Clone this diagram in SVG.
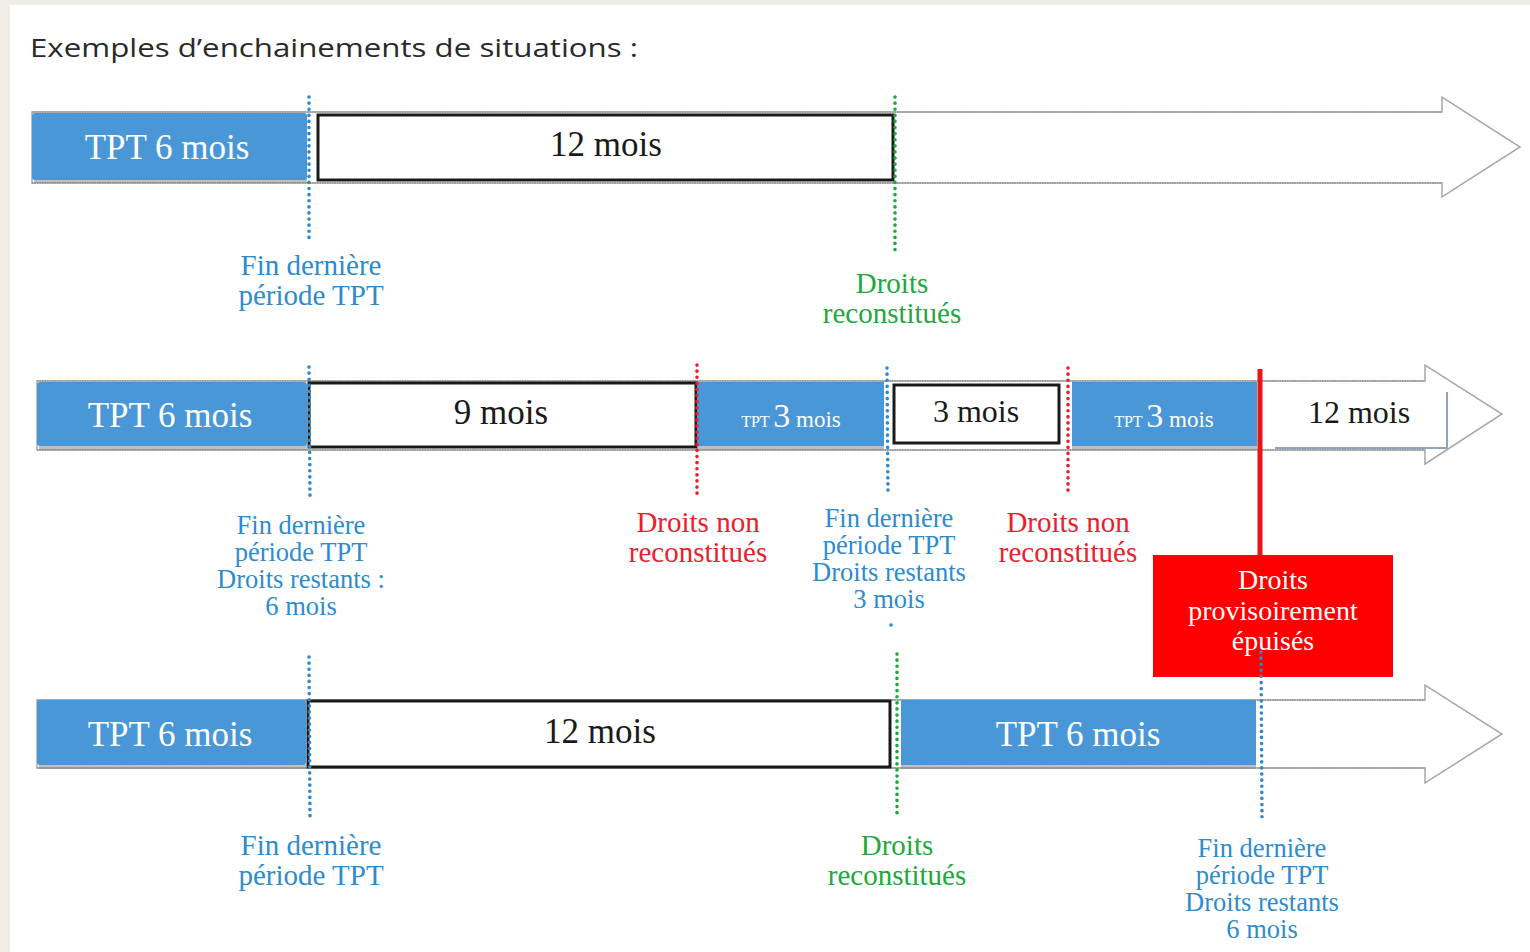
<svg xmlns="http://www.w3.org/2000/svg" width="1530" height="952" viewBox="0 0 1530 952">
<defs>
<style>
.bg{fill:#efede6}
.arrow{fill:#fff;stroke:#a8a8a8;stroke-width:1.5}
.shaft{stroke:#9c9c9c;stroke-width:2;stroke-dasharray:1.5 1}
.blue{fill:#4a97d8}
.shadow{fill:#8a8a8a;opacity:.55}
.wbox{fill:#fff;stroke:#1a1a1a;stroke-width:3}
.tw{font-family:"Liberation Serif","Times New Roman",serif;fill:#fff;text-anchor:middle}
.tb{font-family:"Liberation Serif","Times New Roman",serif;fill:#1a1a1a;text-anchor:middle}
.lbl{font-family:"Liberation Serif","Times New Roman",serif;text-anchor:middle}
.lb{fill:#2d8bd0}
.lg{fill:#22a83c}
.lr{fill:#e8212d}
.dot{fill:none;stroke-width:3.6;stroke-linecap:round;stroke-dasharray:0.1 6}
.db{stroke:#2d88cc}
.dg{stroke:#1fa83a}
.dr{stroke:#e5202c}
</style>
</defs>
<rect class="bg" x="0" y="0" width="1530" height="952"/>
<rect x="10" y="5" width="1520" height="947" fill="#fff"/>
<text x="30" y="57" font-family="'Open Sans','Liberation Sans',sans-serif" font-size="25" fill="#2a2a2a" textLength="608" lengthAdjust="spacingAndGlyphs">Exemples d’enchainements de situations :</text>

<!-- Row 1 -->
<g id="row1-arrow">
<path class="arrow" d="M32,112 H1442 V97 L1520,147 L1442,197 V183 H32 Z"/>
<line class="shaft" x1="32" y1="112" x2="1442" y2="112"/>
<line class="shaft" x1="32" y1="183" x2="1442" y2="183"/>
</g>
<g id="row1-tpt6">
<rect class="shadow" x="34" y="178" width="273" height="5"/>
<rect class="blue" x="32" y="113" width="275" height="67" rx="3"/>
<text class="tw" x="167" y="159" font-size="35">TPT 6 mois</text>
</g>
<g id="row1-12mois">
<rect class="wbox" x="318" y="115" width="575" height="65"/>
<text class="tb" x="606" y="156" font-size="35">12 mois</text>
</g>

<!-- Row 2 -->
<g id="row2-arrow">
<path class="arrow" d="M37,381 H1425 V365 L1502,414 L1425,464 V450 H37 Z"/>
<line class="shaft" x1="37" y1="381" x2="1425" y2="381"/>
<line class="shaft" x1="37" y1="450" x2="1425" y2="450"/>
</g>
<g id="row2-tpt6">
<rect class="shadow" x="39" y="445" width="268" height="5"/>
<rect class="blue" x="37" y="382" width="270" height="64" rx="3"/>
<text class="tw" x="170" y="427" font-size="35">TPT 6 mois</text>
</g>
<g id="row2-9mois">
<rect class="wbox" x="309" y="383" width="387" height="64"/>
<text class="tb" x="501" y="424" font-size="35">9 mois</text>
</g>
<g id="row2-tpt3a">
<rect class="shadow" x="697" y="445" width="187" height="5"/>
<rect class="blue" x="697" y="382" width="187" height="64"/>
<text class="tw" x="791" y="427"><tspan font-size="16">TPT </tspan><tspan font-size="34">3</tspan><tspan font-size="23"> mois</tspan></text>
</g>
<g id="row2-3mois">
<rect class="wbox" x="894" y="385" width="165" height="58"/>
<text class="tb" x="976" y="422" font-size="32">3 mois</text>
</g>
<g id="row2-tpt3b">
<rect class="shadow" x="1072" y="445" width="185" height="5"/>
<rect class="blue" x="1072" y="382" width="185" height="64"/>
<text class="tw" x="1164" y="427"><tspan font-size="16">TPT </tspan><tspan font-size="34">3</tspan><tspan font-size="23"> mois</tspan></text>
</g>
<g id="row2-12mois">
<path d="M1275,448 H1447 V392" fill="none" stroke="#8fa6c0" stroke-width="2"/>
<text class="tb" x="1359" y="423" font-size="32">12 mois</text>
</g>

<!-- Row 3 -->
<g id="row3-arrow">
<path class="arrow" d="M37,700 H1425 V685 L1502,734 L1425,783 V768 H37 Z"/>
<line class="shaft" x1="37" y1="700" x2="1425" y2="700"/>
<line class="shaft" x1="37" y1="768" x2="1425" y2="768"/>
</g>
<g id="row3-tpt6a">
<rect class="shadow" x="39" y="764" width="267" height="5"/>
<rect class="blue" x="37" y="700" width="269" height="65" rx="3"/>
<text class="tw" x="170" y="746" font-size="35">TPT 6 mois</text>
</g>
<g id="row3-12mois">
<rect class="wbox" x="308" y="701" width="582" height="66"/>
<text class="tb" x="600" y="743" font-size="35">12 mois</text>
</g>
<g id="row3-tpt6b">
<rect class="shadow" x="901" y="764" width="355" height="5"/>
<rect class="blue" x="901" y="700" width="355" height="65"/>
<text class="tw" x="1078" y="746" font-size="35">TPT 6 mois</text>
</g>

<!-- Red box -->
<g id="droits-epuises">
<rect x="1153" y="555" width="240" height="122" fill="#ff0000"/>
<text class="tw" font-size="28"><tspan x="1273" y="589">Droits</tspan><tspan x="1273" y="620">provisoirement</tspan><tspan x="1273" y="650">épuisés</tspan></text>
</g>

<!-- Connectors -->
<g id="connectors">
<line class="dot db" x1="309" y1="97" x2="309" y2="238"/>
<line class="dot dg" x1="895" y1="97" x2="895" y2="252"/>
<line class="dot db" x1="309" y1="367" x2="310" y2="498"/>
<line class="dot dr" x1="697" y1="365" x2="697" y2="494"/>
<line class="dot db" x1="887" y1="368" x2="888" y2="493"/>
<line class="dot dr" x1="1068" y1="368" x2="1068" y2="493"/>
<line x1="1260" y1="369" x2="1260" y2="556" stroke="#e8141c" stroke-width="5"/>
<line class="dot db" x1="309" y1="657" x2="310" y2="820"/>
<line class="dot dg" x1="897" y1="654" x2="897" y2="818"/>
<line class="dot db" x1="1261" y1="652" x2="1262" y2="818"/>
</g>

<!-- Labels -->
<g id="labels-row1">
<text class="lbl lb" font-size="29"><tspan x="311" y="275">Fin dernière</tspan><tspan x="311" y="305">période TPT</tspan></text>
<text class="lbl lg" font-size="29"><tspan x="892" y="293">Droits</tspan><tspan x="892" y="323">reconstitués</tspan></text>
</g>
<g id="labels-row2">
<text class="lbl lb" font-size="26.5"><tspan x="301" y="534">Fin dernière</tspan><tspan x="301" y="561">période TPT</tspan><tspan x="301" y="588">Droits restants :</tspan><tspan x="301" y="615">6 mois</tspan></text>
<text class="lbl lr" font-size="29"><tspan x="698" y="532">Droits non</tspan><tspan x="698" y="562">reconstitués</tspan></text>
<text class="lbl lb" font-size="26.5"><tspan x="889" y="527">Fin dernière</tspan><tspan x="889" y="554">période TPT</tspan><tspan x="889" y="581">Droits restants</tspan><tspan x="889" y="608">3 mois</tspan></text>
<circle cx="891" cy="625" r="1.8" fill="#2d88cc"/>
<text class="lbl lr" font-size="29"><tspan x="1068" y="532">Droits non</tspan><tspan x="1068" y="562">reconstitués</tspan></text>
</g>
<g id="labels-row3">
<text class="lbl lb" font-size="29"><tspan x="311" y="855">Fin dernière</tspan><tspan x="311" y="885">période TPT</tspan></text>
<text class="lbl lg" font-size="29"><tspan x="897" y="855">Droits</tspan><tspan x="897" y="885">reconstitués</tspan></text>
<text class="lbl lb" font-size="26.5"><tspan x="1262" y="857">Fin dernière</tspan><tspan x="1262" y="884">période TPT</tspan><tspan x="1262" y="911">Droits restants</tspan><tspan x="1262" y="938">6 mois</tspan></text>
</g>
</svg>
